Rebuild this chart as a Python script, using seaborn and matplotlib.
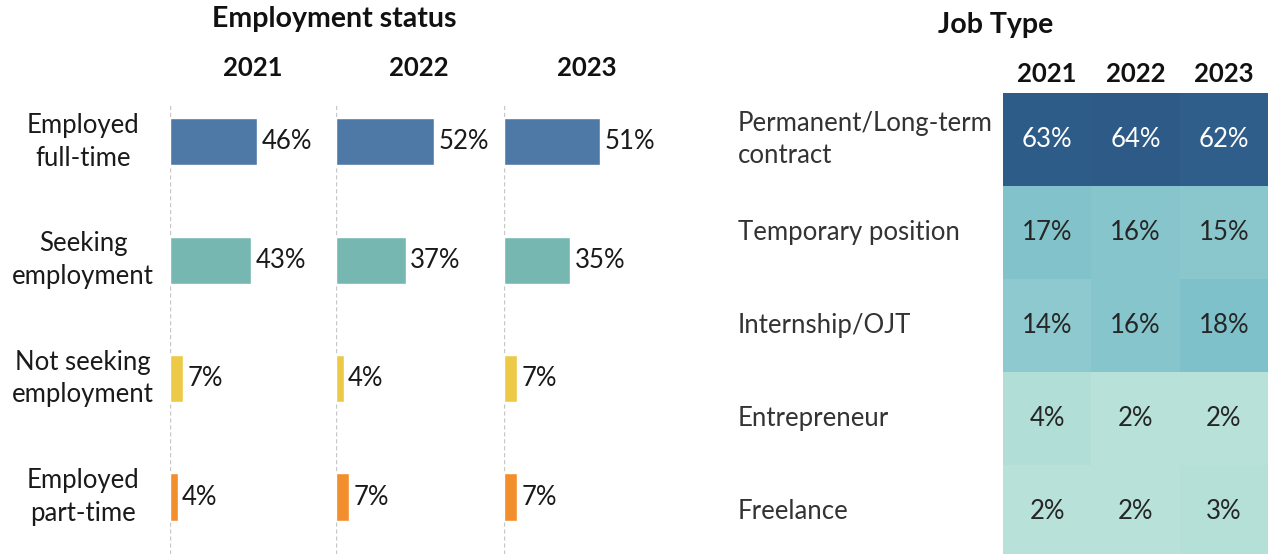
import matplotlib
matplotlib.use("Agg")
import matplotlib.pyplot as plt
import matplotlib.transforms as mtransforms
from matplotlib.colors import LinearSegmentedColormap
import numpy as np
import pandas as pd
import seaborn as sns

# ---- data -------------------------------------------------------------
years = ["2021", "2022", "2023"]
status = ["Employed\nfull-time", "Seeking\nemployment",
          "Not seeking\nemployment", "Employed\npart-time"]
status_2021 = [46, 43, 7, 4]
status_2022 = [52, 37, 4, 7]
status_2023 = [51, 35, 7, 7]
status_colors = ["#4e79a7", "#76b7b2", "#edc948", "#f28e2b"]

job_types = ["Permanent/Long-term\ncontract", "Temporary position",
             "Internship/OJT", "Entrepreneur", "Freelance"]
job_2021 = [63, 17, 14, 4, 2]
job_2022 = [64, 16, 16, 2, 2]
job_2023 = [62, 15, 18, 2, 3]

# ---- style ------------------------------------------------------------
sns.set_theme(style="white")
plt.rcParams["font.family"] = ["Lato", "DejaVu Sans"]

W, H = 1268, 554
fig = plt.figure(figsize=(W / 100, H / 100), dpi=100)

FS = 18.5       # body text
FS_HEAD = 18.5  # year headers
FS_TITLE = 20.5


def px_rect(x0, y0, x1, y1):
    return [x0 / W, 1 - y1 / H, (x1 - x0) / W, (y1 - y0) / H]


# ---- employment status: one small bar panel per year --------------------
status_df = pd.DataFrame({
    "status": status * 3,
    "year": np.repeat(years, len(status)),
    "pct": status_2021 + status_2022 + status_2023,
})
palette = dict(zip(status, status_colors))

panel_lefts = [170, 336, 504]
panel_w = 166
for i, (yr, x0) in enumerate(zip(years, panel_lefts)):
    ax = fig.add_axes(px_rect(x0, 105, x0 + panel_w, 554))
    sub = status_df[status_df["year"] == yr]
    sns.barplot(data=sub, x="pct", y="status", hue="status", palette=palette,
                order=status, hue_order=status, legend=False, width=0.4,
                orient="h", saturation=1, ax=ax)
    ax.set_xlim(0, 88)
    ax.set_ylim(3.48, -0.31)
    ax.axvline(0, color="#c8c8c8", lw=1, ls=(0, (3, 2)), zorder=0)
    for j, v in enumerate(sub["pct"]):
        ax.text(v + 2.4, j, f"{v}%", ha="left", va="center",
                fontsize=FS, color="#1a1a1a")
    ax.set_xlabel("")
    ax.set_ylabel("")
    ax.set_xticks([])
    ax.set_yticks([])
    for s in ax.spines.values():
        s.set_visible(False)
    ax.patch.set_alpha(0)
    fig.text((x0 + panel_w / 2) / W, 1 - 68 / H, yr, ha="center",
             va="center", fontsize=FS_HEAD, fontweight="bold", color="#111111")
    if i == 0:
        trans = mtransforms.blended_transform_factory(fig.transFigure, ax.transData)
        for j, lab in enumerate(status):
            ax.text(83 / W, j, lab, transform=trans, ha="center", va="center",
                    fontsize=FS, color="#1a1a1a", linespacing=1.38)

fig.text(334 / W, 1 - 19 / H, "Employment status", ha="center", va="center",
         fontsize=FS_TITLE, fontweight="bold", color="#111111")

# ---- job type heatmap -------------------------------------------------
job_df = pd.DataFrame({"2021": job_2021, "2022": job_2022, "2023": job_2023},
                      index=job_types)
labels = job_df.map(lambda v: f"{v}%")

cmap = LinearSegmentedColormap.from_list(
    "mint_blue", [(0.0, "#bfe6db"), (18 / 64, "#7fc1ca"), (1.0, "#2d5a87")])

hax = fig.add_axes(px_rect(1003, 93, 1268, 558))
sns.heatmap(job_df, cmap=cmap, vmin=0, vmax=64, annot=labels, fmt="",
            cbar=False, ax=hax, annot_kws={"fontsize": FS})
hax.xaxis.tick_top()
hax.set_xticklabels(years, fontsize=FS_HEAD, fontweight="bold", color="#111111")
hax.tick_params(axis="x", length=0, pad=5)
hax.set_yticks([])
hax.set_xlabel("")
hax.set_ylabel("")

htrans = mtransforms.blended_transform_factory(fig.transFigure, hax.transData)
for j, lab in enumerate(job_types):
    hax.text(738 / W, j + 0.5, lab, transform=htrans, ha="left", va="center",
             fontsize=FS, color="#333333", linespacing=1.33)

fig.text(996 / W, 1 - 25 / H, "Job Type", ha="center", va="center",
         fontsize=FS_TITLE, fontweight="bold", color="#111111")

fig.savefig("out.png", dpi=100)
